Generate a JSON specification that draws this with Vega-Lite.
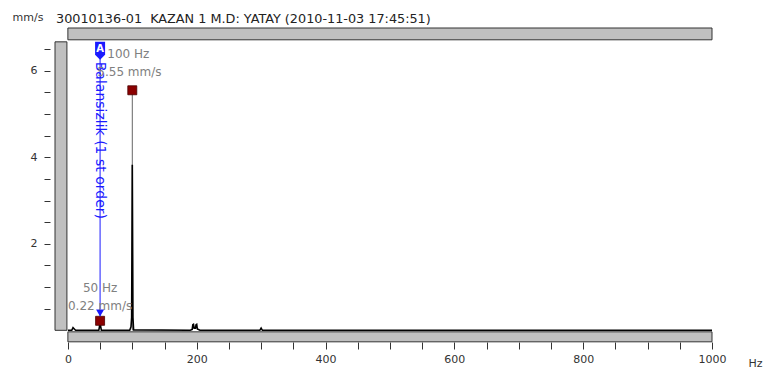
{
  "$schema": "https://vega.github.io/schema/vega-lite/v6.json",
  "width": 667,
  "height": 314,
  "autosize": {"type": "none"},
  "padding": {"left": 50, "top": 28, "right": 49, "bottom": 30},
  "background": "white",
  "config": {
    "view": {"stroke": null},
    "font": "DejaVu Sans",
    "axis": {"grid": false, "domain": false, "labelOverlap": false, "tickColor": "#333333", "labelColor": "#333333", "labelFont": "DejaVu Sans", "labelFontSize": 11, "titleFont": "DejaVu Sans", "titleFontSize": 11, "titleFontWeight": "normal", "titleColor": "#333333"}
  },
  "title": {"text": "30010136-01 \u00a0KAZAN 1 M.D: YATAY (2010-11-03 17:45:51)", "anchor": "start", "frame": "group", "dx": 6, "dy": 23, "offset": 8, "font": "DejaVu Sans", "fontSize": 12.8, "fontWeight": "normal", "color": "#222222"},
  "datasets": {
    "bars": [
      {"x": 0, "x2": 1000, "y": 6.717, "y2": 6.99},
      {"x": -20, "x2": -1.5, "y": 0.0, "y2": 6.67},
      {"x": 0, "x2": 1000, "y": -0.266, "y2": -0.035}
    ],
    "spectrum": [
      {"f": 0, "a": 0.0}, {"f": 6, "a": 0.0}, {"f": 8, "a": 0.06}, {"f": 10, "a": 0.03}, {"f": 12, "a": 0.0},
      {"f": 48, "a": 0.0}, {"f": 49, "a": 0.08}, {"f": 50, "a": 0.2}, {"f": 51, "a": 0.08}, {"f": 52, "a": 0.0},
      {"f": 96, "a": 0.0}, {"f": 97, "a": 0.04}, {"f": 98, "a": 0.08}, {"f": 99, "a": 0.3}, {"f": 100, "a": 3.83}, {"f": 101, "a": 0.3}, {"f": 102, "a": 0.01},
      {"f": 190, "a": 0.0}, {"f": 193, "a": 0.02}, {"f": 194, "a": 0.13}, {"f": 195, "a": 0.14}, {"f": 196, "a": 0.05}, {"f": 198, "a": 0.05}, {"f": 199, "a": 0.13}, {"f": 200, "a": 0.14}, {"f": 201, "a": 0.03}, {"f": 205, "a": 0.0},
      {"f": 298, "a": 0.0}, {"f": 300, "a": 0.05}, {"f": 302, "a": 0.0}, {"f": 500, "a": 0.0}, {"f": 1000, "a": 0.0}
    ],
    "markers": [
      {"f": 50, "a": 0.22, "hz": "50 Hz", "val": "0.22 mm/s"},
      {"f": 100, "a": 5.55, "hz": "100 Hz", "val": "5.55 mm/s"}
    ],
    "cursor": [
      {"f": 50, "name": "Balansizlik (1 st order)", "tag": "A", "top": 6.3, "bottom": 0.33, "badge": 6.485, "arrow": 0.4, "label": 6.21}
    ]
  },
  "layer": [
    {
      "data": {"name": "bars"},
      "mark": {"type": "rect", "fill": "#c0c0c0", "stroke": "#333333", "strokeWidth": 1},
      "encoding": {
        "x": {"field": "x", "type": "quantitative", "scale": {"domain": [-20, 1000], "nice": false, "zero": false}, "axis": {"values": [0,50,100,150,200,250,300,350,400,450,500,550,600,650,700,750,800,850,900,950,1000], "tickCount": 100, "labelExpr": "datum.value % 200 == 0 ? datum.label : ''", "labelOverlap": false, "tickSize": 7, "labelPadding": 4, "title": "Hz", "titleX": 705, "titleY": 21, "titleAlign": "center", "titleBaseline": "middle", "format": "d"}},
        "x2": {"field": "x2"},
        "y": {"field": "y", "type": "quantitative", "scale": {"domain": [-0.27, 6.99], "nice": false, "zero": false}, "axis": {"values": [0.5,1,1.5,2,2.5,3,3.5,4,4.5,5,5.5,6,6.5], "tickCount": 100, "labelExpr": "datum.value == 2 || datum.value == 4 || datum.value == 6 ? '' + datum.value : ''", "labelOverlap": false, "tickSize": 6, "labelPadding": 7, "title": "mm/s", "titleAngle": 0, "titleAlign": "left", "titleBaseline": "middle", "titleX": -38, "titleY": -11}},
        "y2": {"field": "y2"}
      }
    },
    {
      "data": {"name": "markers"},
      "transform": [{"filter": "datum.f == 100"}],
      "mark": {"type": "bar", "color": "#666666", "size": 1},
      "encoding": {"x": {"field": "f", "type": "quantitative"}, "y": {"field": "a", "type": "quantitative"}}
    },
    {
      "data": {"name": "spectrum"},
      "mark": {"type": "line", "color": "#000000", "strokeWidth": 1.6, "interpolate": "linear"},
      "encoding": {"x": {"field": "f", "type": "quantitative"}, "y": {"field": "a", "type": "quantitative"}}
    },
    {
      "data": {"name": "markers"},
      "mark": {"type": "point", "shape": "square", "filled": true, "size": 81, "color": "#8b0000", "stroke": "#4a0000", "strokeWidth": 0.8, "opacity": 1},
      "encoding": {"x": {"field": "f", "type": "quantitative"}, "y": {"field": "a", "type": "quantitative"}}
    },
    {
      "data": {"name": "cursor"},
      "mark": {"type": "rule", "color": "#1a1aff", "strokeWidth": 1},
      "encoding": {"x": {"field": "f", "type": "quantitative"}, "y": {"field": "bottom", "type": "quantitative"}, "y2": {"field": "top"}}
    },
    {
      "data": {"name": "cursor"},
      "mark": {"type": "point", "shape": "triangle-down", "filled": true, "size": 64, "color": "#1a1aff", "opacity": 1},
      "encoding": {"x": {"field": "f", "type": "quantitative"}, "y": {"field": "arrow", "type": "quantitative"}}
    },
    {
      "data": {"name": "cursor"},
      "mark": {"type": "point", "shape": "M-0.5,-0.8L0.5,-0.8L0.5,0.5L0,1L-0.5,0.5Z", "filled": true, "size": 400, "color": "#1a1aff", "opacity": 1},
      "encoding": {"x": {"field": "f", "type": "quantitative"}, "y": {"field": "badge", "type": "quantitative"}}
    },
    {
      "data": {"name": "cursor"},
      "mark": {"type": "text", "color": "white", "fontSize": 10, "fontWeight": "bold", "baseline": "middle", "align": "center", "dy": -1},
      "encoding": {"x": {"field": "f", "type": "quantitative"}, "y": {"field": "badge", "type": "quantitative"}, "text": {"field": "tag", "type": "nominal"}}
    },
    {
      "data": {"name": "cursor"},
      "mark": {"type": "text", "color": "#1a1aff", "fontSize": 14, "angle": 90, "align": "left", "baseline": "middle"},
      "encoding": {"x": {"field": "f", "type": "quantitative"}, "y": {"field": "label", "type": "quantitative"}, "text": {"field": "name", "type": "nominal"}}
    },
    {
      "data": {"name": "markers"},
      "transform": [{"filter": "datum.f == 100"}],
      "mark": {"type": "text", "color": "#808080", "fontSize": 12, "align": "left", "baseline": "middle", "dx": -25, "dy": -36},
      "encoding": {"x": {"field": "f", "type": "quantitative"}, "y": {"field": "a", "type": "quantitative"}, "text": {"field": "hz", "type": "nominal"}}
    },
    {
      "data": {"name": "markers"},
      "transform": [{"filter": "datum.f == 100"}],
      "mark": {"type": "text", "color": "#808080", "fontSize": 12, "align": "left", "baseline": "middle", "dx": -35, "dy": -18},
      "encoding": {"x": {"field": "f", "type": "quantitative"}, "y": {"field": "a", "type": "quantitative"}, "text": {"field": "val", "type": "nominal"}}
    },
    {
      "data": {"name": "markers"},
      "transform": [{"filter": "datum.f == 50"}],
      "mark": {"type": "text", "color": "#808080", "fontSize": 12, "align": "center", "baseline": "middle", "dx": 0, "dy": -33},
      "encoding": {"x": {"field": "f", "type": "quantitative"}, "y": {"field": "a", "type": "quantitative"}, "text": {"field": "hz", "type": "nominal"}}
    },
    {
      "data": {"name": "markers"},
      "transform": [{"filter": "datum.f == 50"}],
      "mark": {"type": "text", "color": "#808080", "fontSize": 12, "align": "center", "baseline": "middle", "dx": 0, "dy": -15},
      "encoding": {"x": {"field": "f", "type": "quantitative"}, "y": {"field": "a", "type": "quantitative"}, "text": {"field": "val", "type": "nominal"}}
    }
  ]
}
